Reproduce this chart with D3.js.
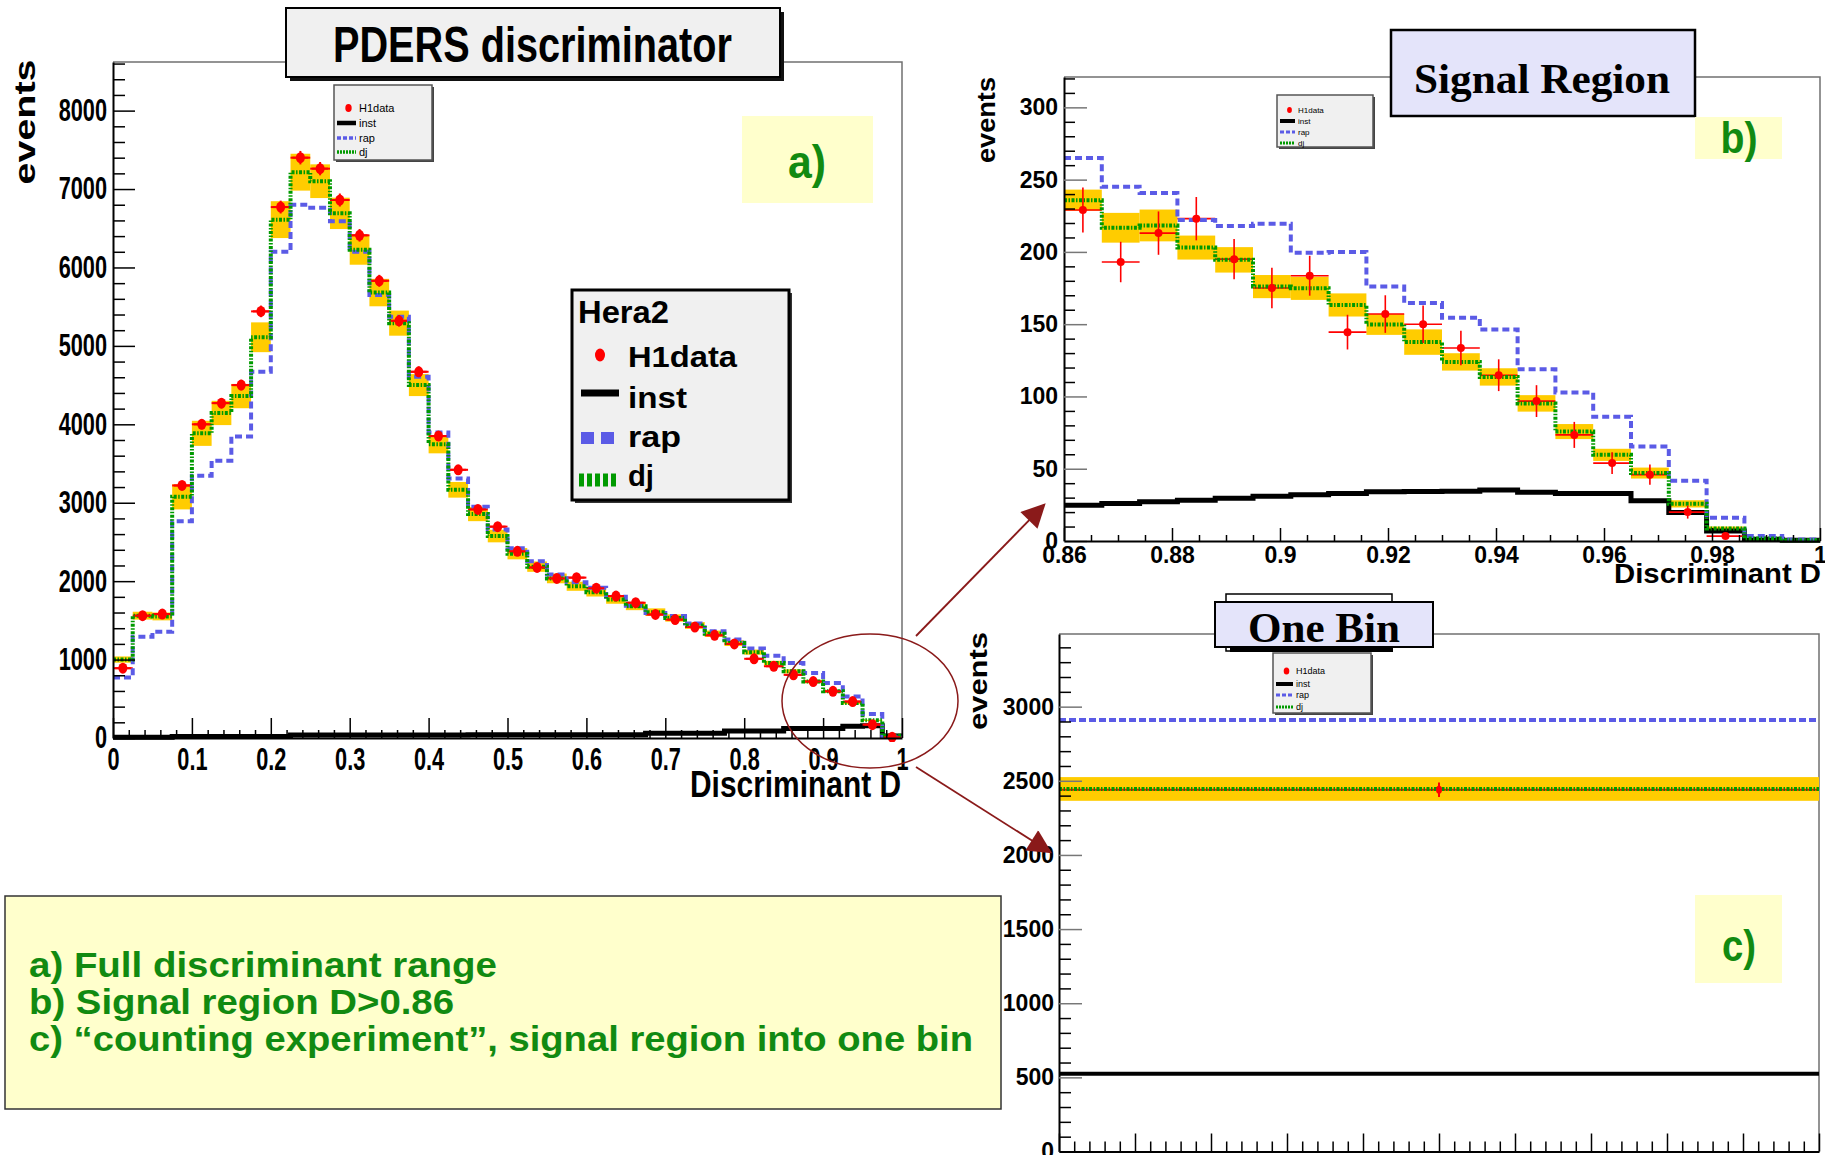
<!DOCTYPE html>
<html>
<head>
<meta charset="utf-8">
<script src="https://cdn.jsdelivr.net/npm/d3@7"></script>
<style>
  html, body { margin: 0; padding: 0; background: #fff; }
  svg { display: block; }
  text { font-family: "Liberation Sans", Arial, Helvetica, sans-serif; font-weight: bold; }
  text.serif { font-family: "Liberation Serif", "Times New Roman", serif; }
  text.thin { font-weight: normal; }
</style>
</head>
<body>
<svg id="fig" width="1825" height="1155"></svg>
<script>
// ---------------- data ----------------
// (a) full discriminant range: 40 bins of width 0.025 on [0,1]
const binLoA = 0, binWidthA = 0.025;
const h1A    = [890,1560,1580,3220,4000,4270,4500,5440,6770,7400,7260,6860,6410,5830,5320,4670,3850,3420,2915,2695,
                2380,2175,2035,2045,1910,1810,1725,1575,1510,1415,1310,1200,1010,915,805,720,595,465,170,10];
const h1ErrA = [30,40,40,57,63,65,67,74,82,86,85,83,80,76,73,68,62,58,54,52,
                49,47,45,45,44,43,42,40,39,38,36,35,32,30,28,27,24,22,13,3];
const djA    = [1000,1560,1550,3075,3885,4145,4360,5110,6610,7215,7100,6690,6225,5680,5290,4500,3745,3165,2855,2575,
                2350,2185,2035,1935,1860,1765,1680,1605,1530,1435,1330,1210,1095,955,850,720,595,445,225,30];
const djErrA = [40,50,50,160,160,155,155,190,235,235,215,200,190,175,160,140,115,100,90,80,
                72,66,62,58,56,53,50,48,46,43,40,37,33,29,26,22,18,14,8,3];
const rapA   = [772,1290,1355,2765,3345,3535,3845,4670,6200,6800,6760,6590,6200,5650,5370,4605,3895,3310,2950,2660,
                2420,2255,2085,1985,1915,1800,1685,1595,1555,1460,1360,1255,1140,1050,955,830,700,530,305,20];
const instA  = [10,10,10,18,18,18,18,18,18,38,38,38,38,38,38,38,38,38,40,40,
                40,40,40,40,40,40,40,62,62,62,62,90,90,90,122,122,122,150,155,25];

// (b) signal region D > 0.86: 20 bins of width 0.007
const binLoB = 0.86, binWidthB = 0.007;
const h1B    = [229,193,213,223,195,175,183.5,144.5,157,150,133.5,114.7,96.8,73.4,53.9,45.9,20,3.4,null,null];
const h1ErrB = [15.5,14,15,15,14,14,13.8,12,13,13,12,11,11,9,7.5,7,4.5,2,0,0];
const djB    = [235.8,216.7,218.3,203,194.5,176,174.8,163.3,149.8,137.6,123.9,113.5,95.2,75.7,59.6,47,25.7,8.7,1.8,0.5];
const djErrB = [7.3,10.3,11,8.3,8.8,8,8,8,7.2,8.8,6,6,5.7,5.2,4.2,3.8,2.5,1.3,0.5,0.3];
const rapB   = [265,245,240.8,222,217.9,219.5,199.5,200,176,164.7,154.4,146.3,118.8,102.8,86,65.4,41.7,16,3.4,1];
const instB  = [24.8,25.9,27.1,28.2,29.6,31,32,32.9,34,34.3,34.5,35.2,33.8,32.9,32.9,27.8,19.7,6.9,1.2,0.5];

// (c) the whole signal region in a single bin
const binLoC = 0.86, binWidthC = 0.14;
const h1C = [2440], h1ErrC = [49];
const djC = [2445], djErrC = [80];
const rapC = [2910];
const instC = [525];

// tick labels
const yTicksA = [0,1000,2000,3000,4000,5000,6000,7000,8000];
const xTicksA = [0,0.1,0.2,0.3,0.4,0.5,0.6,0.7,0.8,0.9,1];
const xLabelsA = ["0","0.1","0.2","0.3","0.4","0.5","0.6","0.7","0.8","0.9","1"];
const yTicksB = [0,50,100,150,200,250,300];
const xTicksB = [0.86,0.88,0.9,0.92,0.94,0.96,0.98,1];
const xLabelsB = ["0.86","0.88","0.9","0.92","0.94","0.96","0.98","1"];
const yTicksC = [0,500,1000,1500,2000,2500,3000];

const legendNames = ["H1data","inst","rap","dj"];
const notes = ["a) Full discriminant range",
               "b) Signal region D>0.86",
               "c) \u201ccounting experiment\u201d, signal region into one bin"];

// ---------------- styles ----------------
const C = { red: "#ff0000", green: "#009a00", blue: "#5b5be6", band: "#ffcc00",
            note: "#118a11", noteBg: "#ffffcc", arrow: "#8a1a1a", frame: "#707070" };

const svg = d3.select("#fig");

// ---------------- helpers ----------------
function txt(parent, s, o) {
  const t = parent.append("text").text(s).attr("font-size", o.size).attr("fill", o.fill || "#000");
  if (o.cls) t.attr("class", o.cls);
  let dx = 0;
  if (o.len) {
    if (o.anchor === "end") dx = -o.len; else if (o.anchor === "middle") dx = -o.len / 2;
    t.attr("textLength", o.len).attr("lengthAdjust", "spacingAndGlyphs");
  } else if (o.anchor) t.attr("text-anchor", o.anchor);
  if (o.rotate) t.attr("transform", `translate(${o.x},${o.y}) rotate(${o.rotate})`).attr("x", dx).attr("y", 0);
  else t.attr("x", o.x + dx).attr("y", o.y);
  return t;
}
// horizontally condense text already placed by an axis
function squeeze(sel, f) {
  sel.each(function () {
    const t = d3.select(this);
    const w = this.getComputedTextLength();
    const a = getComputedStyle(this).textAnchor;
    const x = +t.attr("x") || 0;
    const nw = w * f;
    const nx = a === "end" ? x - nw : a === "middle" ? x - nw / 2 : x;
    t.attr("text-anchor", "start").attr("x", nx).attr("textLength", nw).attr("lengthAdjust", "spacingAndGlyphs");
  });
}
function bins(lo, w, vals, errs) {
  return vals.map((v, i) => ({ lo: lo + i * w, hi: lo + (i + 1) * w, mid: lo + (i + 0.5) * w, v, e: errs ? errs[i] : 0 }));
}
function stepPath(x, y, lo, w, vals) {
  const pts = vals.map((v, i) => [lo + i * w, v]);
  pts.push([lo + vals.length * w, vals[vals.length - 1]]);
  return d3.line().x(d => x(d[0])).y(d => y(d[1])).curve(d3.curveStepAfter)(pts);
}
let clipId = 0;
function clip(g, x0, y0, x1, y1) {
  const id = "clip" + (clipId++);
  svg.append("defs").append("clipPath").attr("id", id)
    .append("rect").attr("x", x0).attr("y", y0).attr("width", x1 - x0).attr("height", y1 - y0);
  return g.append("g").attr("clip-path", `url(#${id})`);
}

function drawPanel(p) {
  const g = svg.append("g");
  const { x, y, box } = p;
  // frame (top/right)
  g.append("path").attr("d", `M${box.l},${box.t}H${box.r}V${box.b}`)
    .attr("fill", "none").attr("stroke", C.frame).attr("stroke-width", 1.5);
  const d = clip(g, box.l, box.t, box.r, box.b + 4);
  // uncertainty band of the dj model
  d.selectAll("rect.band").data(bins(p.lo, p.w, p.dj, p.djErr)).join("rect").attr("class", "band")
    .attr("x", b => x(b.lo)).attr("width", b => x(b.hi) - x(b.lo))
    .attr("y", b => y(b.v + b.e)).attr("height", b => y(b.v - b.e) - y(b.v + b.e))
    .attr("fill", C.band);
  // instanton signal
  d.append("path").attr("d", stepPath(x, y, p.lo, p.w, p.inst))
    .attr("fill", "none").attr("stroke", "#000").attr("stroke-width", p.instW);
  // H1 data: horizontal bin-width bars
  const pts = bins(p.lo, p.w, p.h1, p.h1Err).filter(b => b.v !== null);
  d.append("g").attr("stroke", C.red).attr("stroke-width", p.errW)
    .selectAll("line.h").data(pts).join("line").attr("class", "h")
    .attr("x1", b => x(b.lo)).attr("x2", b => x(b.hi)).attr("y1", b => y(b.v)).attr("y2", b => y(b.v));
  // rap model
  d.append("path").attr("d", stepPath(x, y, p.lo, p.w, p.rap))
    .attr("fill", "none").attr("stroke", C.blue).attr("stroke-width", p.lineW).attr("stroke-dasharray", p.rapDash);
  // dj model
  d.append("path").attr("d", stepPath(x, y, p.lo, p.w, p.dj))
    .attr("fill", "none").attr("stroke", C.green).attr("stroke-width", p.lineW).attr("stroke-dasharray", p.djDash);
  // H1 data: vertical error bars and markers
  d.append("g").attr("stroke", C.red).attr("stroke-width", p.errW)
    .selectAll("line.v").data(pts).join("line").attr("class", "v")
    .attr("x1", b => x(b.mid)).attr("x2", b => x(b.mid)).attr("y1", b => y(b.v - b.e)).attr("y2", b => y(b.v + b.e));
  if (p.crossW) d.append("g").attr("stroke", C.red).attr("stroke-width", p.errW)
    .selectAll("line.c").data(pts).join("line").attr("class", "c")
    .attr("x1", b => x(b.mid) - p.crossW).attr("x2", b => x(b.mid) + p.crossW).attr("y1", b => y(b.v)).attr("y2", b => y(b.v));
  d.selectAll("ellipse.pt").data(pts).join("ellipse").attr("class", "pt")
    .attr("cx", b => x(b.mid)).attr("cy", b => y(b.v)).attr("rx", p.mrx).attr("ry", p.mry).attr("fill", C.red);
  return g;
}

function axes(g, p) {
  const { x, y, box } = p;
  const ya = g.append("g").attr("transform", `translate(${box.l},0)`)
    .call(d3.axisLeft(y).tickValues(p.yTicks).tickSize(-p.yMajor).tickSizeOuter(0).tickPadding(p.yPad).tickFormat(d3.format("d")))
    .attr("font-size", p.tickFont).attr("color", "#000");
  ya.select(".domain").attr("stroke-width", 2);
  ya.selectAll(".tick line").attr("stroke", p.majorColor).attr("stroke-width", 1.5);
  g.append("g").attr("transform", `translate(${box.l},0)`)
    .call(d3.axisLeft(y).tickValues(p.yMinor).tickSize(-p.yMinorLen).tickSizeOuter(0).tickFormat(""))
    .call(s => s.select(".domain").remove())
    .selectAll(".tick line").attr("stroke", "#000").attr("stroke-width", 1.5);
  const xa = g.append("g").attr("transform", `translate(0,${box.b})`)
    .call(d3.axisBottom(x).tickValues(p.xTicks).tickSize(-p.xMajor).tickSizeOuter(0).tickPadding(p.xPad)
      .tickFormat((v, i) => p.xLabels ? p.xLabels[i] : ""))
    .attr("font-size", p.xTickFont || p.tickFont).attr("color", "#000");
  xa.select(".domain").attr("stroke-width", 2);
  xa.selectAll(".tick line").attr("stroke-width", 1.5);
  g.append("g").attr("transform", `translate(0,${box.b})`)
    .call(d3.axisBottom(x).tickValues(p.xMinor).tickSize(-p.xMinorLen).tickSizeOuter(0).tickFormat(""))
    .call(s => s.select(".domain").remove())
    .selectAll(".tick line").attr("stroke", "#000").attr("stroke-width", 1.5);
  if (p.squeeze) { squeeze(ya.selectAll("text"), p.squeeze); squeeze(xa.selectAll("text"), p.squeeze); }
}

function smallLegend(l) {
  const g = svg.append("g");
  g.append("rect").attr("x", l.x + 2).attr("y", l.y + 2).attr("width", l.w).attr("height", l.h).attr("fill", "#444");
  g.append("rect").attr("x", l.x).attr("y", l.y).attr("width", l.w).attr("height", l.h)
    .attr("fill", "#f0f0f0").attr("stroke", "#555").attr("stroke-width", 1.5);
  const sx0 = l.x + 3, sx1 = l.x + l.sw;
  l.rows.forEach((ry, i) => {
    if (i === 0) g.append("ellipse").attr("cx", (sx0 + sx1) / 2 + 2).attr("cy", ry).attr("rx", l.dot * 0.8).attr("ry", l.dot).attr("fill", C.red);
    if (i === 1) g.append("line").attr("x1", sx0).attr("x2", sx1).attr("y1", ry).attr("y2", ry).attr("stroke", "#000").attr("stroke-width", l.lw + 1);
    if (i === 2) g.append("line").attr("x1", sx0).attr("x2", sx1).attr("y1", ry).attr("y2", ry).attr("stroke", C.blue).attr("stroke-width", l.lw).attr("stroke-dasharray", l.rapDash);
    if (i === 3) g.append("line").attr("x1", sx0).attr("x2", sx1).attr("y1", ry).attr("y2", ry).attr("stroke", C.green).attr("stroke-width", l.lw).attr("stroke-dasharray", l.djDash);
    txt(g, legendNames[i], { x: sx1 + 3, y: ry + l.font * 0.36, size: l.font, cls: "thin" });
  });
}

// ---------------- panel (a) ----------------
const boxA = { l: 113, r: 902, t: 62, b: 738 };
const xA = d3.scaleLinear().domain([0, 1]).range([boxA.l, boxA.r]);
const yA = d3.scaleLinear().domain([0, 8620]).range([boxA.b, boxA.t]);
const pA = { x: xA, y: yA, box: boxA, lo: binLoA, w: binWidthA, h1: h1A, h1Err: h1ErrA, dj: djA, djErr: djErrA, rap: rapA, inst: instA,
  instW: 5, lineW: 4, rapDash: "7,4", djDash: "3,1.5,1.5,1.5", errW: 2, mrx: 4.5, mry: 5.5, crossW: 8,
  yTicks: yTicksA, yMinor: d3.range(200, 8620, 200).filter(v => v % 1000), yMajor: 22, yMinorLen: 12, yPad: 6,
  xTicks: xTicksA, xLabels: xLabelsA, xMinor: d3.range(0.02, 1, 0.02).filter(v => Math.abs(v * 10 - Math.round(v * 10)) > 1e-6),
  xMajor: 20, xMinorLen: 8, xPad: 10, tickFont: 31, squeeze: 0.7, majorColor: "#000" };
const gA = drawPanel(pA);
axes(gA, pA);

// ---------------- panel (b) ----------------
const boxB = { l: 1064, r: 1820, t: 77, b: 541 };
const xB = d3.scaleLinear().domain([0.86, 1]).range([boxB.l, boxB.r]);
const yB = d3.scaleLinear().domain([0, 321]).range([boxB.b, boxB.t]);
const pB = { x: xB, y: yB, box: boxB, lo: binLoB, w: binWidthB, h1: h1B, h1Err: h1ErrB, dj: djB, djErr: djErrB, rap: rapB, inst: instB,
  instW: 5, lineW: 4, rapDash: "7,4", djDash: "3,1.5,1.5,1.5", errW: 1.6, mrx: 4, mry: 4, crossW: 0,
  yTicks: yTicksB, yMinor: d3.range(10, 321, 10).filter(v => v % 50), yMajor: 23, yMinorLen: 11, yPad: 6,
  xTicks: xTicksB, xLabels: xLabelsB, xMinor: d3.range(0.865, 1, 0.005).filter(v => Math.abs(v * 50 - Math.round(v * 50)) > 1e-6),
  xMajor: 13, xMinorLen: 6, xPad: 6, tickFont: 23, xTickFont: 23, majorColor: "#777" };
const gB = drawPanel(pB);
axes(gB, pB);

// ---------------- panel (c) ----------------
const boxC = { l: 1059, r: 1819, t: 634, b: 1151.5 };
const xC = d3.scaleLinear().domain([0.86, 1]).range([boxC.l, boxC.r]);
const yC = d3.scaleLinear().domain([0, 3490]).range([boxC.b, boxC.t]);
const pC = { x: xC, y: yC, box: boxC, lo: binLoC, w: binWidthC, h1: h1C, h1Err: h1ErrC, dj: djC, djErr: djErrC, rap: rapC, inst: instC,
  instW: 4, lineW: 4, rapDash: "7,3", djDash: "3,1.5,1.5,1.5", errW: 2, mrx: 3, mry: 4, crossW: 0,
  yTicks: yTicksC, yMinor: d3.range(100, 3490, 100).filter(v => v % 500), yMajor: 23, yMinorLen: 12, yPad: 5,
  xTicks: d3.range(0, 11).map(i => 0.86 + i * 0.014), xLabels: null,
  xMinor: d3.range(0, 50).filter(i => i % 5).map(i => 0.86 + i * 0.0028),
  xMajor: 18, xMinorLen: 10, xPad: 6, tickFont: 23, majorColor: "#777" };
const gC = drawPanel(pC);
axes(gC, pC);

// ---------------- titles, axis labels, labels ----------------
// (a) title box
svg.append("rect").attr("x", 290).attr("y", 12).attr("width", 494).attr("height", 69).attr("fill", "#111");
svg.append("rect").attr("x", 286).attr("y", 8).attr("width", 494).attr("height", 69)
  .attr("fill", "#f0f0f0").attr("stroke", "#000").attr("stroke-width", 2);
txt(svg, "PDERS discriminator", { x: 333, y: 62, size: 50, len: 399 });
txt(svg, "events", { x: 35, y: 122, size: 30, len: 125, anchor: "middle", rotate: -90 });
txt(svg, "Discriminant D", { x: 901, y: 797, size: 36, len: 211, anchor: "end" });
svg.append("rect").attr("x", 742).attr("y", 116).attr("width", 131).attr("height", 87).attr("fill", C.noteBg);
txt(svg, "a)", { x: 807, y: 178, size: 46, len: 38, anchor: "middle", fill: C.note });

// (b)
svg.append("rect").attr("x", 1391).attr("y", 30).attr("width", 304).attr("height", 86)
  .attr("fill", "#e4e4fa").attr("stroke", "#000").attr("stroke-width", 2.5);
txt(svg, "Signal Region", { x: 1542, y: 93, size: 42, len: 256, anchor: "middle", cls: "serif" });
txt(svg, "events", { x: 995, y: 120, size: 25, len: 86, anchor: "middle", rotate: -90 });
txt(svg, "Discriminant D", { x: 1821, y: 583, size: 27, len: 207, anchor: "end" });
svg.append("rect").attr("x", 1695).attr("y", 117).attr("width", 87).attr("height", 42).attr("fill", C.noteBg);
txt(svg, "b)", { x: 1739, y: 153, size: 44, len: 37, anchor: "middle", fill: C.note });

// (c)
svg.append("rect").attr("x", 1226).attr("y", 594).attr("width", 166).attr("height", 57)
  .attr("fill", "#fff").attr("stroke", "#000").attr("stroke-width", 1.5);
svg.append("rect").attr("x", 1230).attr("y", 647).attr("width", 163).attr("height", 5).attr("fill", "#000");
svg.append("rect").attr("x", 1215).attr("y", 602).attr("width", 218).attr("height", 45)
  .attr("fill", "#e4e4fa").attr("stroke", "#000").attr("stroke-width", 2);
txt(svg, "One Bin", { x: 1324, y: 642, size: 42, len: 152, anchor: "middle", cls: "serif" });
txt(svg, "events", { x: 987, y: 681, size: 25, len: 98, anchor: "middle", rotate: -90 });
svg.append("rect").attr("x", 1695).attr("y", 895).attr("width", 87).attr("height", 88).attr("fill", C.noteBg);
txt(svg, "c)", { x: 1739, y: 961, size: 44, len: 34, anchor: "middle", fill: C.note });

// ---------------- legends ----------------
// large legend in (a)
(function () {
  const g = svg.append("g");
  g.append("rect").attr("x", 575).attr("y", 293).attr("width", 217).attr("height", 210).attr("fill", "#333");
  g.append("rect").attr("x", 572).attr("y", 290).attr("width", 217).attr("height", 210)
    .attr("fill", "#f0f0f0").attr("stroke", "#000").attr("stroke-width", 3);
  txt(g, "Hera2", { x: 578, y: 323, size: 32, len: 91 });
  g.append("ellipse").attr("cx", 600).attr("cy", 355).attr("rx", 5).attr("ry", 6.5).attr("fill", C.red);
  g.append("line").attr("x1", 581).attr("x2", 619).attr("y1", 393).attr("y2", 393).attr("stroke", "#000").attr("stroke-width", 7);
  g.append("line").attr("x1", 581).attr("x2", 619).attr("y1", 438).attr("y2", 438).attr("stroke", C.blue).attr("stroke-width", 12).attr("stroke-dasharray", "13,7");
  g.append("line").attr("x1", 579).attr("x2", 619).attr("y1", 480).attr("y2", 480).attr("stroke", C.green).attr("stroke-width", 13).attr("stroke-dasharray", "5,3");
  const lens = [109, 59, 53, 26], ys = [367, 408, 447, 486];
  legendNames.forEach((n, i) => txt(g, n, { x: 628, y: ys[i], size: 30, len: lens[i] }));
})();
smallLegend({ x: 334, y: 85, w: 98, h: 75, sw: 22, rows: [108, 123, 138, 152], font: 11, lw: 3.5, dot: 4, rapDash: "4,2", djDash: "2,1" });
smallLegend({ x: 1277, y: 95, w: 96, h: 52, sw: 18, rows: [110, 121, 132, 143], font: 8, lw: 3, dot: 3, rapDash: "4,2", djDash: "2,1" });
smallLegend({ x: 1273, y: 653, w: 98, h: 60, sw: 20, rows: [671, 684, 695, 707], font: 9, lw: 3, dot: 3.5, rapDash: "4,2", djDash: "2,1" });

// ---------------- zoom annotations ----------------
const defs = svg.append("defs");
defs.append("marker").attr("id", "head").attr("viewBox", "0 0 10 10").attr("refX", 9).attr("refY", 5)
  .attr("markerUnits", "userSpaceOnUse").attr("markerWidth", 30).attr("markerHeight", 24).attr("orient", "auto")
  .append("path").attr("d", "M0,0L10,5L0,10z").attr("fill", C.arrow);
svg.append("ellipse").attr("cx", 870).attr("cy", 701).attr("rx", 88).attr("ry", 67)
  .attr("fill", "none").attr("stroke", C.arrow).attr("stroke-width", 1.5);
svg.append("line").attr("x1", 916).attr("y1", 636).attr("x2", 1044).attr("y2", 505)
  .attr("stroke", C.arrow).attr("stroke-width", 1.8).attr("marker-end", "url(#head)");
svg.append("line").attr("x1", 916).attr("y1", 767).attr("x2", 1050).attr("y2", 852)
  .attr("stroke", C.arrow).attr("stroke-width", 1.8).attr("marker-end", "url(#head)");

// ---------------- notes box ----------------
svg.append("rect").attr("x", 5).attr("y", 896).attr("width", 996).attr("height", 213)
  .attr("fill", C.noteBg).attr("stroke", "#333").attr("stroke-width", 1.5);
const noteLens = [468, 425, 944];
notes.forEach((s, i) => txt(svg, s, { x: 29, y: 977 + i * 37, size: 35, len: noteLens[i], fill: C.note }));
</script>
</body>
</html>
